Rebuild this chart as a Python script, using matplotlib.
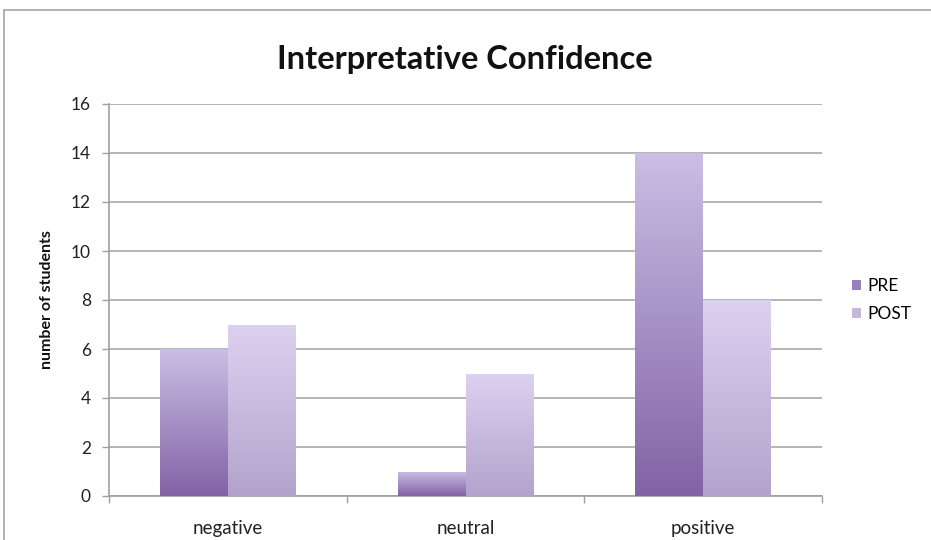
import numpy as np
import matplotlib
matplotlib.use("Agg")
import matplotlib.pyplot as plt
from matplotlib.lines import Line2D
from matplotlib.colors import LinearSegmentedColormap

categories = ["negative", "neutral", "positive"]
series_names = ["PRE", "POST"]
pre_values = [6, 1, 14]
post_values = [7, 5, 8]
y_ticks = [0, 2, 4, 6, 8, 10, 12, 14, 16]

plt.rcParams['font.family'] = ['Lato', 'DejaVu Sans']

W, H = 931, 540
fig = plt.figure(figsize=(W / 100, H / 100), dpi=100)
fig.patch.set_facecolor("white")

# outer chart frame (top and left edges visible)
fig.add_artist(Line2D([4 / W, 1], [1 - 9.5 / H, 1 - 9.5 / H], color="#a6a6a6", lw=1.2))
fig.add_artist(Line2D([4 / W, 4 / W], [0, 1 - 9.5 / H], color="#a6a6a6", lw=1.2))

ax = fig.add_axes([109 / W, 1 - 496 / H, (822 - 109) / W, (496 - 104) / H])

x = np.arange(len(categories))
bw = 1 / 3.5
pre_cmap = LinearSegmentedColormap.from_list("pre", ["#8262a6", "#cabfe4"])
post_cmap = LinearSegmentedColormap.from_list("post", ["#b3a3cc", "#ddd1f1"])

ax.set_xlim(-0.5, len(categories) - 0.5)
ax.set_ylim(0, 16)

def grad_bars(xs, vals, cmap, label, swatch):
    bars = ax.bar(xs, vals, width=bw, color=swatch, zorder=2, label=label,
                  edgecolor="none")
    grad = np.linspace(0, 1, 256).reshape(-1, 1)
    for b in bars:
        x0, y0 = b.get_x(), b.get_y()
        w, h = b.get_width(), b.get_height()
        im = ax.imshow(grad, cmap=cmap, origin="lower", aspect="auto",
                       extent=[x0, x0 + w, y0, y0 + h], zorder=3,
                       interpolation="bicubic")
        im.set_clip_path(b)
    return bars

grad_bars(x - bw / 2, pre_values, pre_cmap, series_names[0], "#9a80bd")
grad_bars(x + bw / 2, post_values, post_cmap, series_names[1], "#c4b7dc")
ax.set_xlim(-0.5, len(categories) - 0.5)
ax.set_ylim(0, 16)

ax.set_yticks(y_ticks)
ax.yaxis.grid(True, color="#a8a8a8", lw=1.2, zorder=0)
ax.set_axisbelow(True)
ax.set_xticks(x)
ax.set_xticklabels(categories, fontsize=13.5, color="#222222")
ax.set_xticks(np.arange(len(categories) + 1) - 0.5, minor=True)
ax.tick_params(axis="x", which="major", length=0, pad=17)
ax.tick_params(axis="x", which="minor", length=5, color="#a0a0a0", width=1)
ax.tick_params(axis="y", length=5, color="#a0a0a0", width=1, labelsize=12.5, pad=8,
               labelcolor="#222222")

for s in ["top", "right"]:
    ax.spines[s].set_visible(False)
for s in ["left", "bottom"]:
    ax.spines[s].set_color("#a0a0a0")
    ax.spines[s].set_linewidth(1.2)

ax.set_ylabel("number of students", fontsize=11.5, fontweight="bold", labelpad=12,
              color="#111111")

fig.text(465 / W, 1 - 60 / H, "Interpretative Confidence", ha="center", va="center",
         fontsize=23.5, fontweight="bold", color="#111111")

leg = ax.legend(loc="center left", bbox_to_anchor=(1.02, 0.5), frameon=False,
                fontsize=12.5, handlelength=0.5, handleheight=0.5, handletextpad=0.4,
                labelspacing=0.7)

fig.savefig("out.png", dpi=100, facecolor="white")
